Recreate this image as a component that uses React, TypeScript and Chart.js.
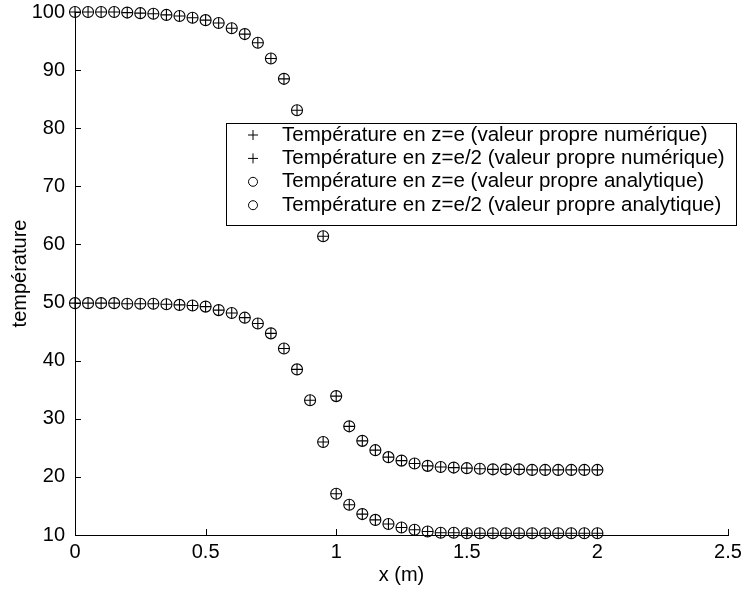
import React, { useEffect, useRef } from "react";
import { Chart, registerables } from "chart.js";

Chart.register(...registerables);

// x positions (m)
const xPositions = [
  0, 0.05, 0.1, 0.15, 0.2, 0.25, 0.3, 0.35, 0.4, 0.45,
  0.5, 0.55, 0.6, 0.65, 0.7, 0.75, 0.8, 0.85, 0.9, 0.95,
  1.0, 1.05, 1.1, 1.15, 1.2, 1.25, 1.3, 1.35, 1.4, 1.45,
  1.5, 1.55, 1.6, 1.65, 1.7, 1.75, 1.8, 1.85, 1.9, 1.95, 2.0,
];

// Température en z=e
const tempZe = [
  100.0, 100.0, 100.0, 100.0, 99.9, 99.8, 99.7, 99.5, 99.3, 99.0,
  98.6, 98.1, 97.2, 96.2, 94.7, 92.0, 88.5, 83.1, 74.5, 61.4,
  33.9, 28.7, 26.2, 24.6, 23.4, 22.8, 22.3, 21.9, 21.7, 21.6,
  21.5, 21.4, 21.3, 21.3, 21.3, 21.2, 21.2, 21.2, 21.2, 21.2, 21.2,
];

// Température en z=e/2
const tempZe2 = [
  49.9, 49.9, 49.9, 49.9, 49.8, 49.8, 49.8, 49.7, 49.6, 49.5,
  49.3, 48.7, 48.2, 47.4, 46.4, 44.7, 42.1, 38.5, 33.2, 26.0,
  17.1, 15.2, 13.6, 12.6, 11.9, 11.3, 10.9, 10.6, 10.4, 10.4,
  10.3, 10.3, 10.3, 10.3, 10.3, 10.3, 10.3, 10.3, 10.3, 10.3, 10.3,
];

// numerical and analytic eigenvalue results coincide at this scale
const numericZe = tempZe;
const numericZe2 = tempZe2;
const analyticZe = tempZe;
const analyticZe2 = tempZe2;

const seriesLabels = [
  "Température en z=e (valeur propre numérique)",
  "Température en z=e/2 (valeur propre numérique)",
  "Température en z=e (valeur propre analytique)",
  "Température en z=e/2 (valeur propre analytique)",
];
const seriesStyles = ["cross", "cross", "circle", "circle"];

const xTicks = [0, 0.5, 1, 1.5, 2, 2.5];
const yTicks = [10, 20, 30, 40, 50, 60, 70, 80, 90, 100];

const FONT = "'Liberation Sans', Arial, Helvetica, sans-serif";

const inwardTicks = {
  id: "inwardTicks",
  afterDraw(chart: any) {
    const ctx = chart.ctx;
    const xs = chart.scales.x;
    const ys = chart.scales.y;
    const len = 6;
    ctx.save();
    ctx.strokeStyle = "#000";
    ctx.lineWidth = 1;
    ctx.beginPath();
    xs.ticks.forEach((t: any) => {
      const px = Math.round(xs.getPixelForValue(t.value)) + 0.5;
      ctx.moveTo(px, ys.bottom);
      ctx.lineTo(px, ys.bottom - len);
    });
    ys.ticks.forEach((t: any) => {
      const py = Math.round(ys.getPixelForValue(t.value)) + 0.5;
      ctx.moveTo(xs.left, py);
      ctx.lineTo(xs.left + len, py);
    });
    ctx.stroke();
    ctx.restore();
  },
};

const boxLegend = {
  id: "boxLegend",
  afterDatasetsDraw(chart: any) {
    const ctx = chart.ctx;
    const ca = chart.chartArea;
    const left = ca.left + 151;
    const top = ca.top + 111;
    const w = 510;
    const h = 102;
    ctx.save();
    ctx.fillStyle = "#fff";
    ctx.fillRect(left, top, w, h);
    ctx.strokeStyle = "#000";
    ctx.lineWidth = 1;
    ctx.strokeRect(Math.round(left) + 0.5, Math.round(top) + 0.5, w, h);
    ctx.font = `20.5px ${FONT}`;
    ctx.fillStyle = "#000";
    ctx.textBaseline = "middle";
    chart.data.datasets.forEach((ds: any, i: number) => {
      const cy = top + 12 + i * 23.4;
      const mx = left + 27;
      ctx.beginPath();
      if (ds.pointStyle === "cross") {
        ctx.moveTo(mx - 5, cy);
        ctx.lineTo(mx + 5, cy);
        ctx.moveTo(mx, cy - 5);
        ctx.lineTo(mx, cy + 5);
      } else {
        ctx.arc(mx, cy, 4.5, 0, Math.PI * 2);
      }
      ctx.stroke();
      ctx.fillText(ds.label, left + 56, cy);
    });
    ctx.restore();
  },
};

export default function App() {
  const canvasRef = useRef<HTMLCanvasElement | null>(null);

  useEffect(() => {
    if (!canvasRef.current) return;
    const seriesValues = [numericZe, numericZe2, analyticZe, analyticZe2];
    const datasets = seriesValues.map((vals, i) => ({
      label: seriesLabels[i],
      data: xPositions.map((x, j) => ({ x, y: vals[j] })),
      showLine: false,
      pointStyle: seriesStyles[i],
      pointRadius: 5.5,
      pointBorderWidth: 1.1,
      pointBorderColor: "#000",
      pointBackgroundColor: "rgba(0,0,0,0)",
      borderColor: "#000",
      backgroundColor: "rgba(0,0,0,0)",
      clip: false as any,
    }));

    const chart = new Chart(canvasRef.current, {
      type: "scatter",
      data: { datasets },
      options: {
        animation: false,
        responsive: false,
        layout: { padding: { left: 0, top: 12, right: 13, bottom: 0 } },
        plugins: {
          legend: { display: false },
          tooltip: { enabled: false },
        },
        scales: {
          x: {
            type: "linear",
            min: 0,
            max: 2.5,
            afterBuildTicks: (s: any) => {
              s.ticks = xTicks.map((v) => ({ value: v }));
            },
            afterFit: (s: any) => {
              s.height = 56;
              s.paddingLeft = 0;
              s.paddingRight = 0;
            },
            ticks: {
              color: "#000",
              font: { family: FONT, size: 20 },
              padding: 5,
              maxRotation: 0,
              autoSkip: false,
              callback: (v: any) => String(Number(v)),
            },
            grid: { display: false, drawTicks: false },
            border: { display: true, color: "#000", width: 1 },
            title: {
              display: true,
              text: "x (m)",
              color: "#000",
              font: { family: FONT, size: 20 },
              padding: { top: 0, bottom: 4 },
            },
          },
          y: {
            type: "linear",
            min: 10,
            max: 100,
            afterBuildTicks: (s: any) => {
              s.ticks = yTicks.map((v) => ({ value: v }));
            },
            afterFit: (s: any) => {
              s.width = 75;
              s.paddingTop = 0;
              s.paddingBottom = 0;
            },
            ticks: {
              color: "#000",
              font: { family: FONT, size: 20 },
              padding: 10,
              autoSkip: false,
              callback: (v: any) => String(Number(v)),
            },
            grid: { display: false, drawTicks: false },
            border: { display: true, color: "#000", width: 1 },
            title: {
              display: true,
              text: "température",
              color: "#000",
              font: { family: FONT, size: 20 },
              padding: { top: 8, bottom: 0 },
            },
          },
        },
      },
      plugins: [boxLegend, inwardTicks],
    });
    return () => chart.destroy();
  }, []);

  return (
    <div style={{ position: "fixed", left: 0, top: 0, width: 741, height: 591, background: "#fff" }}>
      <canvas ref={canvasRef} width={741} height={591} style={{ display: "block" }} />
    </div>
  );
}
